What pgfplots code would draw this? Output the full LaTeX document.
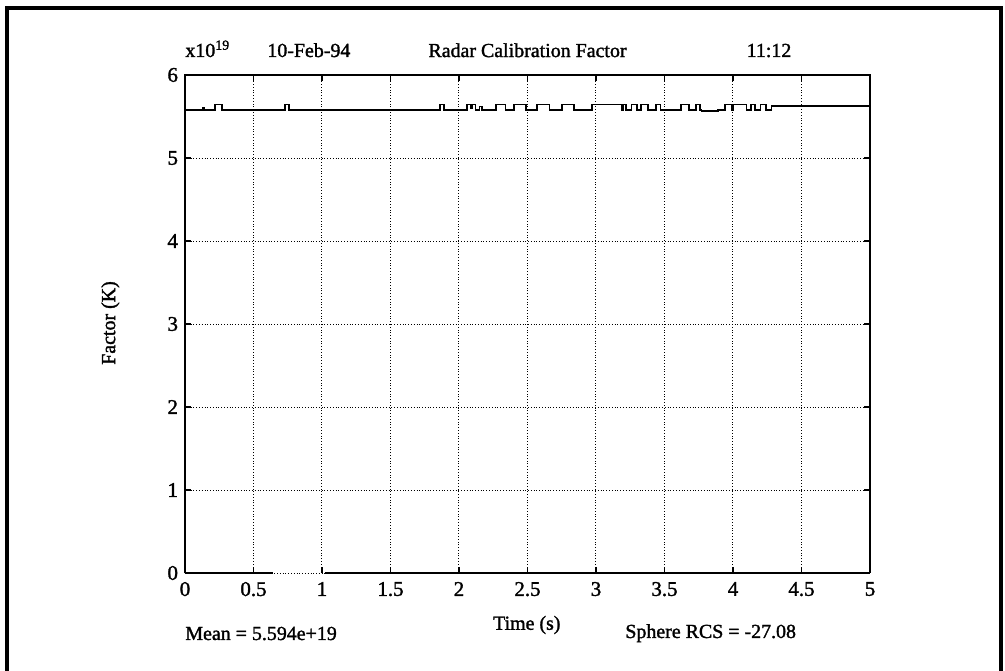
\documentclass[border=0pt]{standalone}
\usepackage{fontspec}
\setmainfont{Liberation Serif}[FakeBold=1.5]
\usepackage{pgfplots}
\pgfplotsset{compat=1.18}

\begin{document}
\begin{tikzpicture}
\useasboundingbox (-92.5bp,-49bp) rectangle (410bp,286.5bp);
\begin{axis}[width=342.5bp, height=249bp, scale only axis,
  at={(0,0)}, anchor=south west,
  xmin=0, xmax=5, ymin=0, ymax=6, clip=false,
  xtick={0,0.5,1,1.5,2,2.5,3,3.5,4,4.5,5},
  ytick={0,1,2,3,4,5,6},
  axis line style={draw=none},
  tick align=inside, major tick length=3bp,
  tick style={black, line width=0.6bp},
  grid=major,
  major grid style={densely dotted, black, line width=0.5bp},
  /pgf/number format/assume math mode=true,
  tick label style={font=\fontsize{10.5}{12}\selectfont},
  xticklabel style={yshift=-1bp},
  label style={font=\fontsize{10}{12}\selectfont},
  xlabel={Time (s)},
  xlabel style={at={(axis description cs:0.499,-0.114)}, anchor=base},
  ylabel={Factor (K)},
  ylabel style={at={(axis description cs:-0.109,0.502)}, anchor=center},
  title={Radar Calibration Factor},
  title style={at={(axis description cs:0.5,1.012)}, anchor=base,
    inner sep=0pt, font=\fontsize{10}{12}\selectfont},
]
% calibration factor, step trace near 5.6e19
\addplot[const plot, black, line width=0.8bp] coordinates {
  (0,5.58) (0.13,5.60) (0.14,5.58) (0.22,5.645) (0.27,5.58)
  (0.73,5.645) (0.76,5.58) (1.86,5.645) (1.89,5.58)
  (2.06,5.645) (2.085,5.60) (2.095,5.645) (2.12,5.58) (2.15,5.62) (2.17,5.58)
  (2.27,5.645) (2.34,5.58) (2.40,5.645) (2.49,5.58)
  (2.57,5.645) (2.66,5.58) (2.75,5.645) (2.84,5.58)
  (2.97,5.645) (3.19,5.58) (3.20,5.645) (3.22,5.58)
  (3.26,5.645) (3.30,5.58) (3.33,5.645) (3.38,5.58)
  (3.44,5.645) (3.47,5.58) (3.62,5.645) (3.68,5.58)
  (3.73,5.645) (3.76,5.58) (3.77,5.565) (3.89,5.58)
  (3.94,5.645) (3.99,5.58) (4.00,5.645) (4.10,5.58)
  (4.13,5.645) (4.16,5.58) (4.20,5.645) (4.24,5.58)
  (4.28,5.63) (5,5.63)
};
% zero trace, with a dropout
\addplot[black, line width=1.2bp] coordinates {(0,0) (0.64,0)};
\addplot[black, line width=1.2bp] coordinates {(1.02,0) (5,0)};
% left, top and right spines
\draw[black, line width=1.1bp] (rel axis cs:0,0) -- (rel axis cs:0,1)
  -- (rel axis cs:1,1) -- (rel axis cs:1,0);
\end{axis}
\begin{scope}[shift={(-92.5bp,286.5bp)}, x=0.5bp, y=-0.5bp,
  every node/.style={font=\fontsize{10}{12}\selectfont, inner sep=0pt}]
  \draw[black, line width=2bp] (7.5,671) -- (7.5,8) -- (1001.5,8) -- (1001.5,671);
  \node[anchor=base west] at (185,57) {x10\textsuperscript{19}};
  \node[anchor=base west] at (267,57) {10-Feb-94};
  \node[anchor=base] at (769,57) {11:12};
  \node[anchor=base west] at (185,640) {Mean = 5.594e+19};
  \node[anchor=base west] at (625,638) {Sphere RCS = -27.08};
\end{scope}
\end{tikzpicture}
\end{document}
